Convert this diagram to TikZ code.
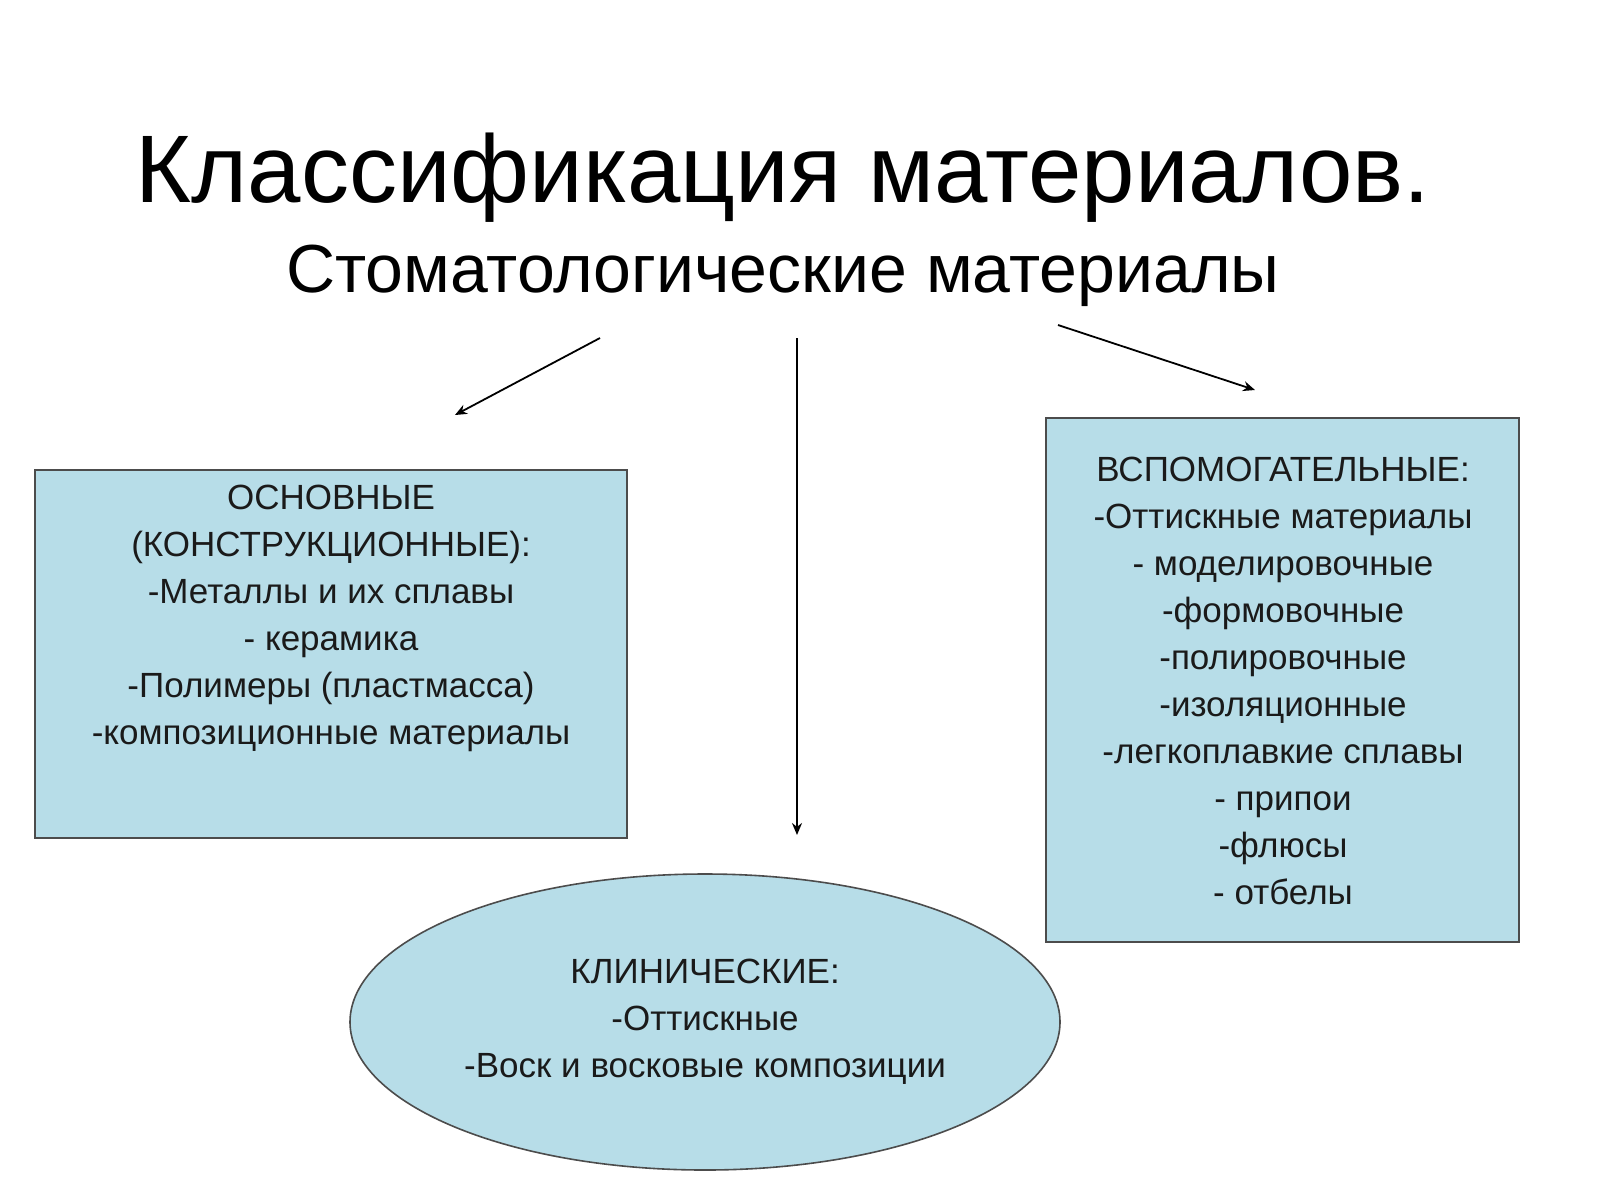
\documentclass[tikz,border=0pt]{standalone}
\usepackage{fontspec}
\setmainfont{Liberation Sans}
\usetikzlibrary{shapes.geometric,arrows.meta}
\definecolor{boxfill}{HTML}{B7DDE8}
\definecolor{txt}{HTML}{1A1A1A}
\begin{document}
\begin{tikzpicture}[x=0.5pt,y=-0.5pt,
  box/.style={draw=black!70,line width=0.8pt,fill=boxfill},
  lbl/.style={align=center,font=\fontsize{17.5}{23.5}\selectfont,text=txt},
  arr/.style={-{Stealth[length=6pt,width=5pt]},line width=0.9pt}]
\useasboundingbox (0,0) rectangle (1600,1200);
\fill[white] (0,0) rectangle (1600,1200);
\node[font=\fontsize{48}{56}\selectfont] (title) at (783,178) {Классификация материалов.};
\node[font=\fontsize{34}{40}\selectfont] (sub) at (783,276) {Стоматологические материалы};
\draw[box] (35,470) rectangle (627,838);
\node[lbl,anchor=north] (left) at (331,478) {ОСНОВНЫЕ\\(КОНСТРУКЦИОННЫЕ):\\-Металлы и их сплавы\\- керамика\\-Полимеры (пластмасса)\\-композиционные материалы};
\draw[box] (1046,418) rectangle (1519,942);
\node[lbl,anchor=north] (right) at (1283,450) {ВСПОМОГАТЕЛЬНЫЕ:\\-Оттискные материалы\\- моделировочные\\-формовочные\\-полировочные\\-изоляционные\\-легкоплавкие сплавы\\- припои\\-флюсы\\- отбелы};
\node[box,ellipse,minimum width=710pt*0.5,minimum height=296pt*0.5,inner sep=0pt] (ell) at (705,1022) {};
\node[lbl] (cl) at (705,1022) {КЛИНИЧЕСКИЕ:\\-Оттискные\\-Воск и восковые композиции};
\coordinate (a1) at (600,338); \coordinate (b1) at (455,415);
\coordinate (a2) at (797,338); \coordinate (b2) at (797,835);
\coordinate (a3) at (1058,325); \coordinate (b3) at (1255,390);
\draw[arr] (a1) -- (b1);
\draw[arr] (a2) -- (b2);
\draw[arr] (a3) -- (b3);
\end{tikzpicture}
\end{document}
